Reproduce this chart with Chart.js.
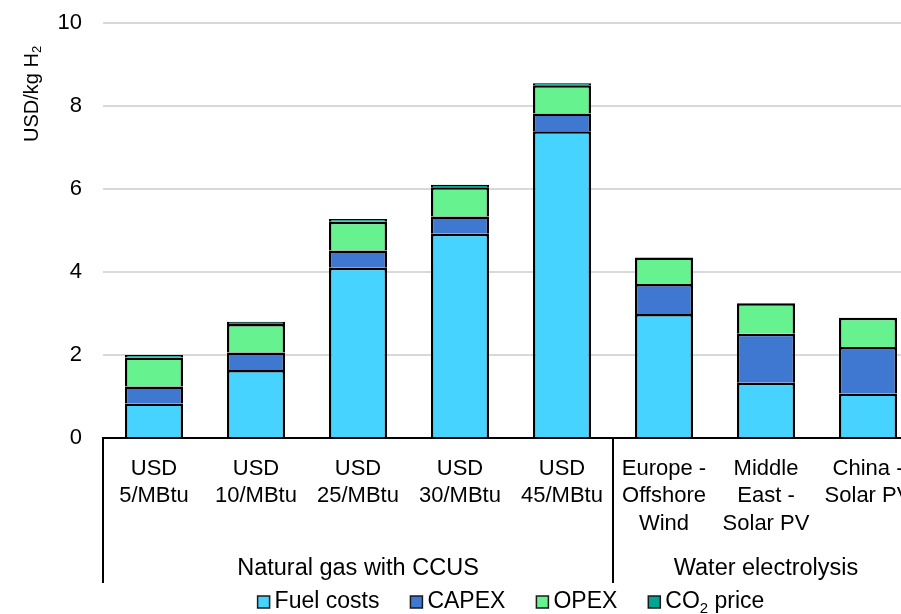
<!DOCTYPE html>
<html>
<head>
<meta charset="utf-8">
<script src="https://cdn.jsdelivr.net/npm/chart.js@4"></script>
<style>
  html, body { margin: 0; padding: 0; background: #fff; overflow: hidden; }
  canvas { display: block; }
</style>
</head>
<body>
<canvas id="h2-cost-chart" width="940" height="614"></canvas>
<script>
'use strict';

const categoryLabels = [
  ['USD', '5/MBtu'],
  ['USD', '10/MBtu'],
  ['USD', '25/MBtu'],
  ['USD', '30/MBtu'],
  ['USD', '45/MBtu'],
  ['Europe -', 'Offshore', 'Wind'],
  ['Middle', 'East -', 'Solar PV'],
  ['China -', 'Solar PV'],
];
const groupNames = ['Natural gas with CCUS', 'Water electrolysis'];
const groupSizes = [5, 3];

const fuelCosts = [0.83, 1.64, 4.10, 4.92, 7.39, 2.99, 1.33, 1.07];
const capex = [0.41, 0.42, 0.42, 0.42, 0.43, 0.72, 1.18, 1.12];
const opex = [0.70, 0.69, 0.69, 0.70, 0.68, 0.64, 0.74, 0.71];
const co2Price = [0.06, 0.05, 0.07, 0.06, 0.05, 0, 0, 0];

const seriesNames = ['Fuel costs', 'CAPEX', 'OPEX', 'CO_2 price'];
const seriesColors = ['#47D3FF', '#3F78D0', '#66F28F', '#00A693'];
const yTicks = [0, 2, 4, 6, 8, 10];
const yTitle = 'USD/kg H_2';

const FONT = '"Liberation Sans", Arial, sans-serif';

// draws text where "_x" means x as subscript, returns width
function drawRich(ctx, text, x, y, size, measureOnly) {
  const parts = text.split(/_(.)/);
  let cx = x;
  parts.forEach((part, i) => {
    if (!part) return;
    const isSub = i % 2 === 1;
    ctx.font = (isSub ? Math.round(size * 0.65) : size) + 'px ' + FONT;
    if (!measureOnly) ctx.fillText(part, cx, isSub ? y + size * 0.28 : y);
    cx += ctx.measureText(part).width;
  });
  return cx - x;
}

const extrasPlugin = {
  id: 'extras',
  afterDraw(chart) {
    const ctx = chart.ctx;
    const area = chart.chartArea;
    const xScale = chart.scales.x;

    ctx.save();
    ctx.fillStyle = '#000';
    ctx.textBaseline = 'middle';

    // y axis title
    ctx.save();
    ctx.translate(32, 142);
    ctx.rotate(-Math.PI / 2);
    ctx.textAlign = 'left';
    drawRich(ctx, yTitle, 0, 0, 20);
    ctx.restore();

    // group separators + labels
    const bounds = [area.left];
    let idx = 0;
    groupSizes.forEach((size) => {
      idx += size;
      if (idx < categoryLabels.length) {
        bounds.push((xScale.getPixelForValue(idx - 1) + xScale.getPixelForValue(idx)) / 2);
      } else {
        bounds.push(area.right);
      }
    });
    ctx.strokeStyle = '#000';
    ctx.lineWidth = 2;
    bounds.forEach((bx) => {
      ctx.beginPath();
      ctx.moveTo(Math.round(bx), xScale.top);
      ctx.lineTo(Math.round(bx), xScale.bottom);
      ctx.stroke();
    });
    ctx.font = '23.5px ' + FONT;
    ctx.textAlign = 'center';
    groupNames.forEach((name, i) => {
      ctx.fillText(name, (bounds[i] + bounds[i + 1]) / 2, 569);
    });

    // legend
    ctx.textAlign = 'left';
    const boxSize = 12;
    const gap = 31;
    const widths = seriesNames.map((name) => boxSize + 5 + drawRich(ctx, name, 0, 0, 23, true));
    const total = widths.reduce((a, b) => a + b, 0) + gap * (seriesNames.length - 1);
    let lx = (area.left + area.right) / 2 - total / 2;
    const ly = 602;
    seriesNames.forEach((name, i) => {
      ctx.fillStyle = seriesColors[i];
      ctx.fillRect(lx, ly - 6, boxSize, boxSize);
      ctx.strokeStyle = '#1a1a1a';
      ctx.lineWidth = 1.5;
      ctx.strokeRect(lx, ly - 6, boxSize, boxSize);
      ctx.fillStyle = '#000';
      drawRich(ctx, name, lx + boxSize + 5, ly, 23);
      lx += widths[i] + gap;
    });

    ctx.restore();
  }
};

const chartContext = document.querySelector('#h2-cost-chart').getContext('2d');
const seriesData = [fuelCosts, capex, opex, co2Price];

const chartConfig = {
  type: 'bar',
  data: {
    labels: categoryLabels,
    datasets: seriesData.map((values, i) => ({
      label: seriesNames[i].replace('_2', '₂'),
      data: values,
      backgroundColor: seriesColors[i],
      borderColor: '#000',
      borderWidth: 2.5,
      inflateAmount: 0,
      categoryPercentage: 1,
      barPercentage: 0.57,
    })),
  },
  options: {
    responsive: false,
    devicePixelRatio: 1,
    animation: false,
    layout: {
      padding: { top: 23, right: 21, bottom: 31, left: 0 },
    },
    plugins: {
      legend: { display: false },
      tooltip: { enabled: false },
    },
    scales: {
      x: {
        stacked: true,
        grid: { display: false, drawTicks: false },
        border: { display: true, color: '#000', width: 2 },
        ticks: {
          color: '#000',
          font: { family: FONT, size: 22, lineHeight: 1.25 },
          padding: 17,
          maxRotation: 0,
          autoSkip: false,
        },
        afterFit(scale) {
          scale.height = 145;
          scale.paddingLeft = 0;
          scale.paddingRight = 0;
        },
      },
      y: {
        stacked: true,
        min: 0,
        max: 10,
        afterBuildTicks(scale) {
          scale.ticks = yTicks.map((v) => ({ value: v }));
        },
        grid: {
          color: (c) => (c.tick && c.tick.value === 0 ? 'rgba(0,0,0,0)' : '#D9D9D9'),
          lineWidth: 2,
          drawTicks: false,
        },
        border: { display: false },
        ticks: {
          color: '#000',
          font: { family: FONT, size: 22 },
          padding: 21,
        },
        afterFit(scale) {
          scale.width = 103;
          scale.paddingTop = 0;
          scale.paddingBottom = 0;
        },
      },
    },
  },
  plugins: [extrasPlugin],
};

const chart = new Chart(chartContext, chartConfig);
</script>
</body>
</html>
